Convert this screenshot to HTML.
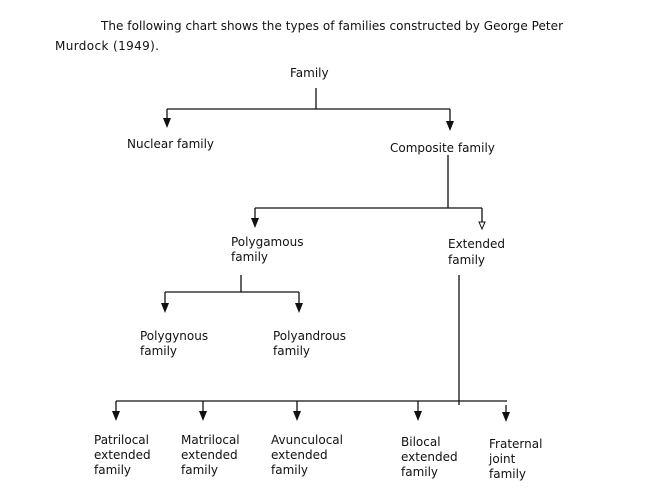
<!DOCTYPE html>
<html><head><style>
html,body{margin:0;padding:0;background:#fff;}
svg{display:block;}
text{font-family:"DejaVu Sans","Liberation Sans",sans-serif;font-size:12px;fill:#111;}
</style></head><body>
<svg width="668" height="492" viewBox="0 0 668 492" xmlns="http://www.w3.org/2000/svg">
<text x="101" y="30" textLength="462" font-size="12.5">The following chart shows the types of families constructed by George Peter</text>
<text x="55" y="50" textLength="104">Murdock (1949).</text>

<g stroke="#111" stroke-width="1.3" fill="none">
<path d="M316,88 V109"/>
<path d="M167,109 H450"/>
<path d="M167,109 V119"/>
<path d="M450,109 V122"/>
<path d="M448,155 V208"/>
<path d="M255,208 H482"/>
<path d="M255,208 V219"/>
<path d="M482,208 V222"/>
<path d="M479,222 L485,222 L482,229 z" stroke-width="1"/>
<path d="M241,275 V292"/>
<path d="M165,292 H299"/>
<path d="M165,292 V304"/>
<path d="M299,292 V304"/>
<path d="M459,275 V405"/>
<path d="M116,401 H507"/>
<path d="M116,401 V412"/>
<path d="M203,401 V412"/>
<path d="M297,401 V412"/>
<path d="M418,401 V412"/>
<path d="M506,405 V413"/>
</g>
<g fill="#111">
<path d="M163,118 L171,118 L167,128 z"/>
<path d="M446,121 L454,121 L450,131 z"/>
<path d="M251,218 L259,218 L255,228 z"/>
<path d="M161,303 L169,303 L165,313 z"/>
<path d="M295,303 L303,303 L299,313 z"/>
<path d="M112,411 L120,411 L116,421 z"/>
<path d="M199,411 L207,411 L203,421 z"/>
<path d="M293,411 L301,411 L297,421 z"/>
<path d="M414,411 L422,411 L418,421 z"/>
<path d="M502,412 L510,412 L506,422 z"/>
</g>

<text x="290" y="77">Family</text>
<text x="127" y="148">Nuclear family</text>
<text x="390" y="152">Composite family</text>
<text x="231" y="246">Polygamous</text>
<text x="231" y="261">family</text>
<text x="448" y="248">Extended</text>
<text x="448" y="264">family</text>
<text x="140" y="340">Polygynous</text>
<text x="140" y="355">family</text>
<text x="273" y="340">Polyandrous</text>
<text x="273" y="355">family</text>
<text x="94" y="444">Patrilocal</text>
<text x="94" y="459">extended</text>
<text x="94" y="474">family</text>
<text x="181" y="444">Matrilocal</text>
<text x="181" y="459">extended</text>
<text x="181" y="474">family</text>
<text x="271" y="444">Avunculocal</text>
<text x="271" y="459">extended</text>
<text x="271" y="474">family</text>
<text x="401" y="446">Bilocal</text>
<text x="401" y="461">extended</text>
<text x="401" y="476">family</text>
<text x="489" y="448">Fraternal</text>
<text x="489" y="463">joint</text>
<text x="489" y="478">family</text>
</svg>
</body></html>
